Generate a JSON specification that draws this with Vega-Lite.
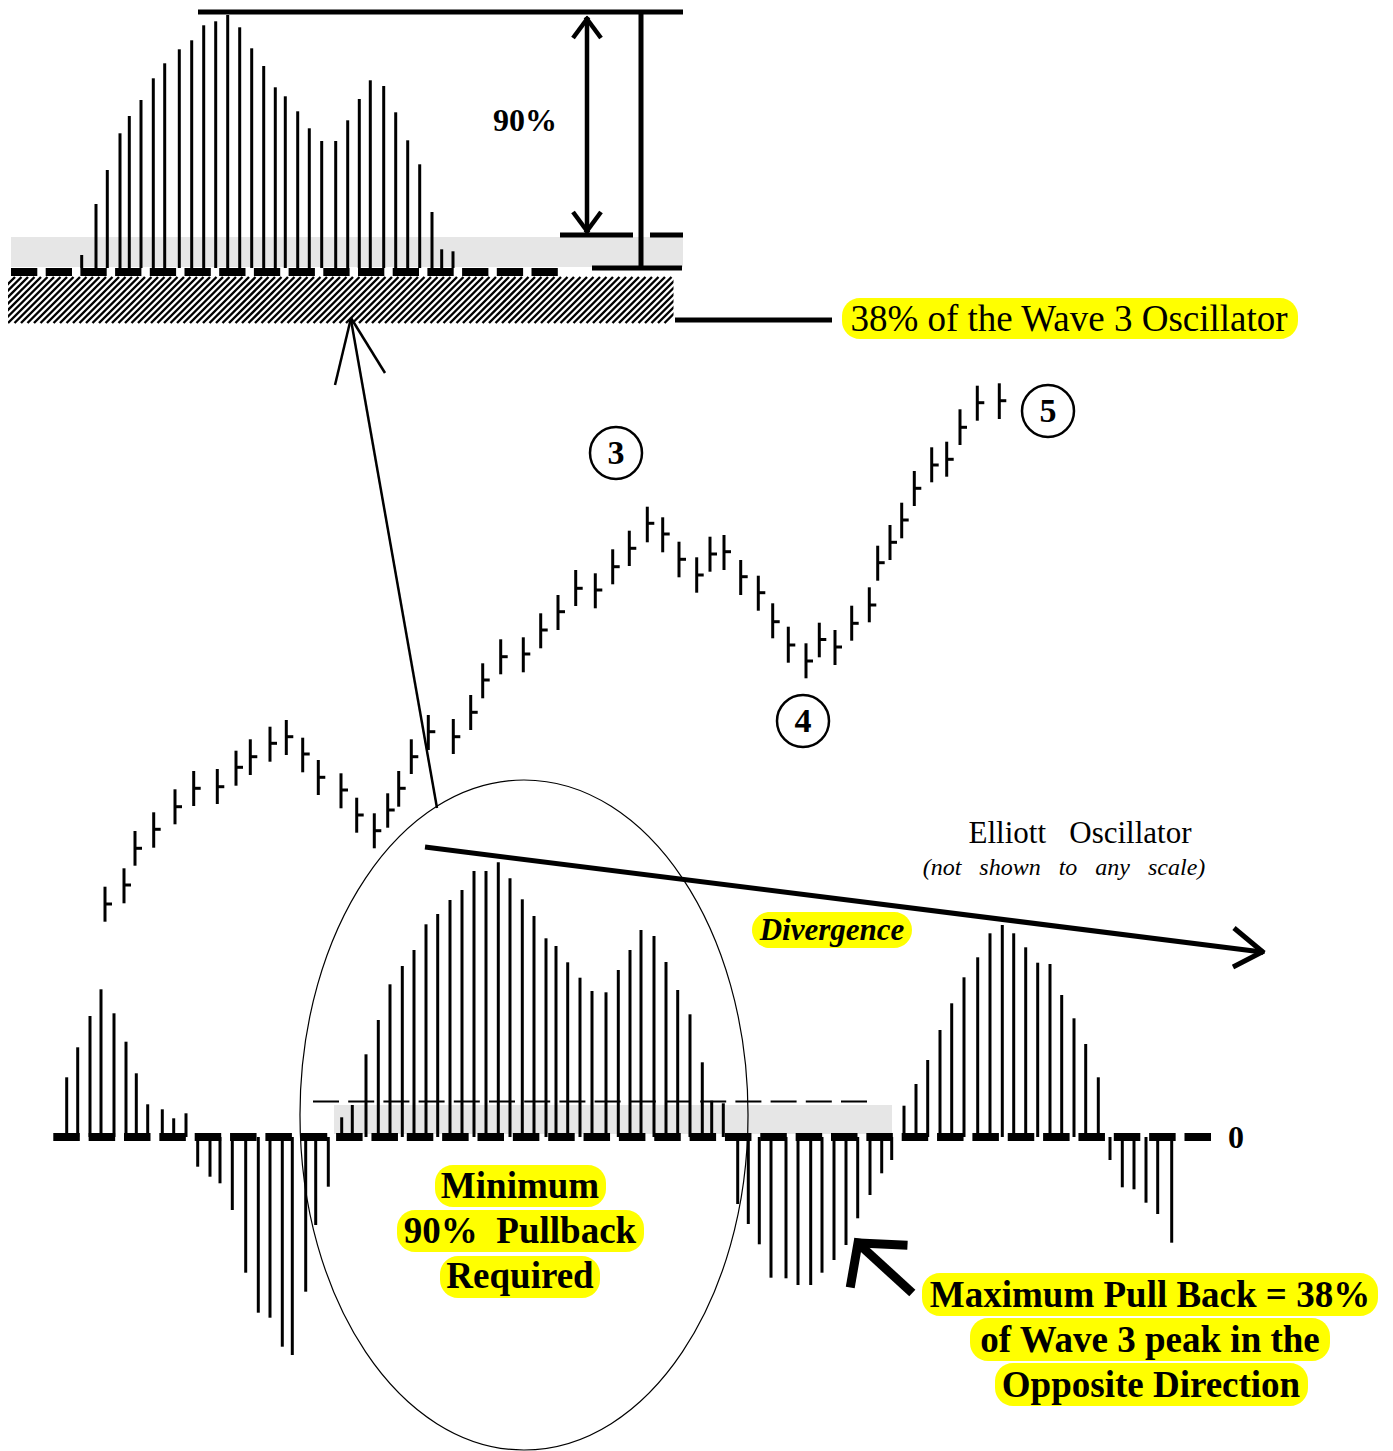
{
"$schema": "https://vega.github.io/schema/vega-lite/v6.json",
"width": 1393, "height": 1451, "autosize": "none", "padding": 0,
"background": "white",
"config": {"view": {"stroke": null}},
"datasets": {
"gray": [{"x":11,"x2":683,"y":237,"y2":267},{"x":334,"x2":892,"y":1105,"y2":1134}],
"hatch": [{"x":-8},{"x":-1.5},{"x":5},{"x":11.5},{"x":18},{"x":24.5},{"x":31},{"x":37.5},{"x":44},{"x":50.5},{"x":57},{"x":63.5},{"x":70},{"x":76.5},{"x":83},{"x":89.5},{"x":96},{"x":102.5},{"x":109},{"x":115.5},{"x":122},{"x":128.5},{"x":135},{"x":141.5},{"x":148},{"x":154.5},{"x":161},{"x":167.5},{"x":174},{"x":180.5},{"x":187},{"x":193.5},{"x":200},{"x":206.5},{"x":213},{"x":219.5},{"x":226},{"x":232.5},{"x":239},{"x":245.5},{"x":252},{"x":258.5},{"x":265},{"x":271.5},{"x":278},{"x":284.5},{"x":291},{"x":297.5},{"x":304},{"x":310.5},{"x":317},{"x":323.5},{"x":330},{"x":336.5},{"x":343},{"x":349.5},{"x":356},{"x":362.5},{"x":369},{"x":375.5},{"x":382},{"x":388.5},{"x":395},{"x":401.5},{"x":408},{"x":414.5},{"x":421},{"x":427.5},{"x":434},{"x":440.5},{"x":447},{"x":453.5},{"x":460},{"x":466.5},{"x":473},{"x":479.5},{"x":486},{"x":492.5},{"x":499},{"x":505.5},{"x":512},{"x":518.5},{"x":525},{"x":531.5},{"x":538},{"x":544.5},{"x":551},{"x":557.5},{"x":564},{"x":570.5},{"x":577},{"x":583.5},{"x":590},{"x":596.5},{"x":603},{"x":609.5},{"x":616},{"x":622.5},{"x":629},{"x":635.5},{"x":642},{"x":648.5},{"x":655},{"x":661.5},{"x":668},{"x":674.5},{"x":681},{"x":687.5}],
"cover": [{"x":-60,"x2":8,"y":274,"y2":327},{"x":673.5,"x2":730,"y":274,"y2":327}],
"inset": [{"x":81.7,"y":255},{"x":96,"y":204},{"x":107.3,"y":170},{"x":120,"y":133.3},{"x":129.3,"y":116},{"x":141,"y":100},{"x":153.3,"y":78.3},{"x":164.7,"y":63.3},{"x":179.3,"y":49.3},{"x":191.7,"y":40.3},{"x":203.7,"y":25.3},{"x":215.7,"y":21.3},{"x":227.7,"y":15},{"x":239.7,"y":27.3},{"x":251.7,"y":48.3},{"x":263.7,"y":66},{"x":275.3,"y":87.3},{"x":285.3,"y":96.3},{"x":297.7,"y":111.3},{"x":309.3,"y":128.3},{"x":321.7,"y":141},{"x":335.7,"y":141},{"x":347.7,"y":120.3},{"x":359.3,"y":99},{"x":370.3,"y":80.3},{"x":383.7,"y":86},{"x":395.7,"y":112.3},{"x":407.7,"y":140.3},{"x":419.7,"y":164.3},{"x":432,"y":212},{"x":441.7,"y":249.3},{"x":453,"y":251.3}],
"osc": [{"x":66.7,"y":1077.3},{"x":77.7,"y":1047.3},{"x":90,"y":1016},{"x":101,"y":989.3},{"x":114,"y":1013.3},{"x":126,"y":1041.7},{"x":136.3,"y":1073.3},{"x":147.7,"y":1104.3},{"x":162.3,"y":1109.3},{"x":173.7,"y":1118.3},{"x":186,"y":1113.3},
{"x":197.7,"y":1166.7},{"x":210,"y":1176.7},{"x":220,"y":1183.3},{"x":232.3,"y":1210},{"x":245.7,"y":1272.7},{"x":258.3,"y":1312.7},{"x":270,"y":1317.7},{"x":282.3,"y":1346.7},{"x":292.3,"y":1355},{"x":305.7,"y":1291.7},{"x":315.7,"y":1225},{"x":328.3,"y":1186.7},
{"x":341.7,"y":1117.3},{"x":352.3,"y":1105},{"x":366,"y":1054.3},{"x":378.3,"y":1020},{"x":390,"y":984.3},{"x":402.3,"y":966},{"x":414,"y":950},{"x":426,"y":924.3},{"x":437.7,"y":914},{"x":450,"y":900},{"x":462,"y":890},{"x":474,"y":871},{"x":486,"y":871},{"x":498.3,"y":862.3},{"x":510,"y":878.3},{"x":522.3,"y":899.3},{"x":534,"y":916},{"x":546,"y":938.3},{"x":556,"y":946},{"x":567.7,"y":962.3},{"x":580,"y":977.7},{"x":592,"y":991},{"x":606,"y":992.3},{"x":618.3,"y":970},{"x":630,"y":950},{"x":641,"y":930},{"x":654,"y":936},{"x":666,"y":962},{"x":677.7,"y":990},{"x":690,"y":1014.3},{"x":702.3,"y":1062.3},{"x":711.7,"y":1100.7},{"x":723.3,"y":1103.3},
{"x":737.7,"y":1204},{"x":748.3,"y":1224},{"x":759.3,"y":1244.3},{"x":771,"y":1277.7},{"x":786,"y":1278.3},{"x":798,"y":1285},{"x":810.7,"y":1285},{"x":822,"y":1272.7},{"x":834,"y":1260},{"x":846,"y":1245},{"x":857.7,"y":1218.3},{"x":870,"y":1195},{"x":881.7,"y":1173.3},{"x":891.7,"y":1160},
{"x":904,"y":1105.7},{"x":916,"y":1084},{"x":927.7,"y":1060},{"x":940,"y":1030},{"x":951.7,"y":1003.3},{"x":964,"y":977.3},{"x":977.7,"y":957.3},{"x":990,"y":933.3},{"x":1002.3,"y":925},{"x":1013.7,"y":933.3},{"x":1025.7,"y":947.3},{"x":1037.7,"y":962.7},{"x":1050,"y":964},{"x":1061.7,"y":995},{"x":1074,"y":1018.3},{"x":1085.7,"y":1044},{"x":1098.3,"y":1077.3},
{"x":1110,"y":1160},{"x":1122.3,"y":1187.3},{"x":1134,"y":1189.3},{"x":1146,"y":1202.7},{"x":1157.7,"y":1214},{"x":1171.7,"y":1242.7}],
"price": [{"x":105,"hi":886.7,"lo":921.7,"cl":904},{"x":124,"hi":868.3,"lo":903.3,"cl":885},{"x":135,"hi":831,"lo":865.7,"cl":848.3},{"x":153.7,"hi":812.3,"lo":847.7,"cl":829.3},{"x":175,"hi":789.3,"lo":824.3,"cl":806.7},{"x":193.7,"hi":771,"lo":806,"cl":788.3},{"x":217.3,"hi":769,"lo":804,"cl":786.7},{"x":236,"hi":750.7,"lo":785.7,"cl":767.3},{"x":250.3,"hi":739.3,"lo":775,"cl":756.7},{"x":270,"hi":726.7,"lo":761.7,"cl":743.3},{"x":286.3,"hi":720,"lo":755,"cl":736.7},{"x":302.7,"hi":737.7,"lo":772.3,"cl":754},{"x":318.3,"hi":760,"lo":795,"cl":777.3},{"x":341,"hi":773.3,"lo":808.3,"cl":790},{"x":356.7,"hi":797.7,"lo":832.7,"cl":815},{"x":374.3,"hi":813.3,"lo":848.3,"cl":830.7},{"x":387.7,"hi":793.3,"lo":827.7,"cl":810},{"x":398.7,"hi":771,"lo":806.7,"cl":788.3},{"x":411.3,"hi":739.3,"lo":774,"cl":756.7},{"x":428.3,"hi":715,"lo":750,"cl":731.7},{"x":453.3,"hi":719,"lo":754,"cl":736.7},{"x":470.7,"hi":695,"lo":730,"cl":712.3},{"x":482.7,"hi":663.3,"lo":698.3,"cl":680},{"x":500.7,"hi":639.3,"lo":674.3,"cl":656.7},{"x":523.3,"hi":637.3,"lo":672.3,"cl":654},{"x":540.7,"hi":613.3,"lo":648.3,"cl":630},{"x":558,"hi":595,"lo":630,"cl":611.7},{"x":575.7,"hi":570,"lo":606,"cl":588.3},{"x":595.3,"hi":573.3,"lo":608.3,"cl":590},{"x":612.7,"hi":549.3,"lo":584.3,"cl":566.7},{"x":629.3,"hi":530.7,"lo":566,"cl":548.3},{"x":647.3,"hi":506.7,"lo":542.3,"cl":523.3},{"x":662.7,"hi":517.3,"lo":552.3,"cl":534},{"x":679,"hi":541.7,"lo":577.3,"cl":559.3},{"x":696.7,"hi":557.3,"lo":592.7,"cl":575},{"x":710,"hi":536.7,"lo":571.7,"cl":554},{"x":724,"hi":535,"lo":570,"cl":551.7},{"x":740.7,"hi":560,"lo":595,"cl":576.7},{"x":758.3,"hi":575.7,"lo":610.7,"cl":592.7},{"x":772.7,"hi":603.3,"lo":638.3,"cl":621.7},{"x":788.3,"hi":626.7,"lo":662.7,"cl":645},{"x":806,"hi":643.3,"lo":678.3,"cl":661},{"x":819.3,"hi":622.7,"lo":657.3,"cl":639.5},{"x":835,"hi":630,"lo":665,"cl":647},{"x":851.7,"hi":605.7,"lo":640.7,"cl":623.3},{"x":869.3,"hi":587.3,"lo":622.3,"cl":605},{"x":877.7,"hi":545.7,"lo":580.7,"cl":562.7},{"x":890,"hi":525,"lo":560,"cl":542.3},{"x":901.7,"hi":502.7,"lo":538.3,"cl":520},{"x":914.3,"hi":471,"lo":506,"cl":488.3},{"x":931.7,"hi":447.3,"lo":482.3,"cl":465},{"x":946.7,"hi":441.7,"lo":476.7,"cl":459.3},{"x":960,"hi":409.3,"lo":445,"cl":427.3},{"x":977.3,"hi":385.7,"lo":420.7,"cl":402.7},{"x":999.3,"hi":383.3,"lo":419,"cl":400.7}],
"seg5": [{"x":198,"y":12,"x2":683,"y2":12},{"x":641,"y":12,"x2":641,"y2":268},{"x":560,"y":235,"x2":633,"y2":235},{"x":650,"y":235,"x2":683,"y2":235},{"x":592,"y":268,"x2":682,"y2":268},{"x":675,"y":320,"x2":832,"y2":320}],
"seg4": [{"x":587,"y":20,"x2":587,"y2":230},{"x":573,"y":38,"x2":588.5,"y2":17},{"x":601,"y":38,"x2":585.5,"y2":17},{"x":573,"y":212,"x2":588.5,"y2":233},{"x":601,"y":212,"x2":585.5,"y2":233}],
"seg25": [{"x":437,"y":808,"x2":351,"y2":320},{"x":351,"y":318,"x2":335,"y2":385},{"x":351,"y":318,"x2":385,"y2":373}],
"segdiv": [{"x":425,"y":847,"x2":1262,"y2":952},{"x":1234,"y":928,"x2":1264,"y2":953},{"x":1233,"y":967,"x2":1264,"y2":951}],
"segbig": [{"x":861,"y":1246,"x2":909,"y2":1290},{"x":859,"y":1243,"x2":903,"y2":1245},{"x":858,"y":1243,"x2":851,"y2":1283}],
"dashtop": [{"x":11,"y":272,"x2":558,"y2":272}],
"dashzero": [{"x":53.3,"y":1137,"x2":1211,"y2":1137}],
"dashthin": [{"x":313,"y":1101.5,"x2":868,"y2":1101.5}],
"ellipse": [{"x":524,"y":1115}],
"circles": [{"x":616,"y":453,"t":"3"},{"x":803,"y":721,"t":"4"},{"x":1048,"y":411,"t":"5"}],
"pills": [{"x":842,"x2":1298,"y":298,"y2":339},{"x":752,"x2":912,"y":912,"y2":948},{"x":435,"x2":606,"y":1165,"y2":1207},{"x":397,"x2":644,"y":1210,"y2":1252},{"x":440,"x2":600,"y":1256,"y2":1298},{"x":922,"x2":1378,"y":1273,"y2":1316},{"x":970,"x2":1330,"y":1318,"y2":1361},{"x":995,"x2":1308,"y":1363,"y2":1406}],
"boldlabels": [{"x":520,"y":1187,"t":"Minimum"},{"x":520,"y":1232,"t":"90%\u00a0\u00a0Pullback"},{"x":520,"y":1277,"t":"Required"},{"x":1150,"y":1296,"t":"Maximum Pull Back = 38%"},{"x":1150,"y":1341,"t":"of Wave 3 peak in the"},{"x":1151,"y":1386,"t":"Opposite Direction"}]
},
"layer": [
{"data":{"name":"gray"},"mark":{"type":"rect","color":"#e6e6e6"},
 "encoding":{"x":{"field":"x","type":"quantitative","scale":{"domain":[0,1393],"nice":false,"zero":false},"axis":null},"x2":{"field":"x2"},
 "y":{"field":"y","type":"quantitative","scale":{"domain":[0,1451],"nice":false,"zero":false,"reverse":true},"axis":null},"y2":{"field":"y2"}}},
{"data":{"name":"hatch"},"mark":{"type":"point","shape":"M -1 1 L 1 -1","size":2116,"filled":false,"color":"black","strokeWidth":2.4,"opacity":1},
 "encoding":{"x":{"field":"x","type":"quantitative","scale":{"domain":[0,1393],"nice":false,"zero":false},"axis":null},
 "y":{"datum":300,"type":"quantitative","scale":{"domain":[0,1451],"nice":false,"zero":false,"reverse":true},"axis":null}}},
{"data":{"name":"cover"},"mark":{"type":"rect","color":"white"},
 "encoding":{"x":{"field":"x","type":"quantitative","scale":{"domain":[0,1393],"nice":false,"zero":false},"axis":null},"x2":{"field":"x2"},
 "y":{"field":"y","type":"quantitative","scale":{"domain":[0,1451],"nice":false,"zero":false,"reverse":true},"axis":null},"y2":{"field":"y2"}}},
{"data":{"name":"inset"},"mark":{"type":"rule","color":"black","strokeWidth":3},
 "encoding":{"x":{"field":"x","type":"quantitative","scale":{"domain":[0,1393],"nice":false,"zero":false},"axis":null},
 "y":{"field":"y","type":"quantitative","scale":{"domain":[0,1451],"nice":false,"zero":false,"reverse":true},"axis":null},"y2":{"datum":268}}},
{"data":{"name":"osc"},"mark":{"type":"rule","color":"black","strokeWidth":3},
 "encoding":{"x":{"field":"x","type":"quantitative","scale":{"domain":[0,1393],"nice":false,"zero":false},"axis":null},
 "y":{"field":"y","type":"quantitative","scale":{"domain":[0,1451],"nice":false,"zero":false,"reverse":true},"axis":null},"y2":{"datum":1137}}},
{"data":{"name":"price"},"mark":{"type":"rule","color":"black","strokeWidth":3},
 "encoding":{"x":{"field":"x","type":"quantitative","scale":{"domain":[0,1393],"nice":false,"zero":false},"axis":null},
 "y":{"field":"hi","type":"quantitative","scale":{"domain":[0,1451],"nice":false,"zero":false,"reverse":true},"axis":null},"y2":{"field":"lo"}}},
{"data":{"name":"price"},"mark":{"type":"point","shape":"M 0 0 L 1 0","size":196,"filled":false,"color":"black","strokeWidth":3,"opacity":1},
 "encoding":{"x":{"field":"x","type":"quantitative","scale":{"domain":[0,1393],"nice":false,"zero":false},"axis":null},
 "y":{"field":"cl","type":"quantitative","scale":{"domain":[0,1451],"nice":false,"zero":false,"reverse":true},"axis":null}}},
{"data":{"name":"dashtop"},"mark":{"type":"rule","color":"black","strokeWidth":8,"strokeDash":[26.3,8.4]},
 "encoding":{"x":{"field":"x","type":"quantitative","scale":{"domain":[0,1393],"nice":false,"zero":false},"axis":null},"x2":{"field":"x2"},
 "y":{"field":"y","type":"quantitative","scale":{"domain":[0,1451],"nice":false,"zero":false,"reverse":true},"axis":null},"y2":{"field":"y2"}}},
{"data":{"name":"dashzero"},"mark":{"type":"rule","color":"black","strokeWidth":8,"strokeDash":[26.5,8.85]},
 "encoding":{"x":{"field":"x","type":"quantitative","scale":{"domain":[0,1393],"nice":false,"zero":false},"axis":null},"x2":{"field":"x2"},
 "y":{"field":"y","type":"quantitative","scale":{"domain":[0,1451],"nice":false,"zero":false,"reverse":true},"axis":null},"y2":{"field":"y2"}}},
{"data":{"name":"dashthin"},"mark":{"type":"rule","color":"black","strokeWidth":2,"strokeDash":[26,9.2]},
 "encoding":{"x":{"field":"x","type":"quantitative","scale":{"domain":[0,1393],"nice":false,"zero":false},"axis":null},"x2":{"field":"x2"},
 "y":{"field":"y","type":"quantitative","scale":{"domain":[0,1451],"nice":false,"zero":false,"reverse":true},"axis":null},"y2":{"field":"y2"}}},
{"data":{"name":"seg5"},"mark":{"type":"rule","color":"black","strokeWidth":5},
 "encoding":{"x":{"field":"x","type":"quantitative","scale":{"domain":[0,1393],"nice":false,"zero":false},"axis":null},"x2":{"field":"x2"},
 "y":{"field":"y","type":"quantitative","scale":{"domain":[0,1451],"nice":false,"zero":false,"reverse":true},"axis":null},"y2":{"field":"y2"}}},
{"data":{"name":"seg4"},"mark":{"type":"rule","color":"black","strokeWidth":4.5},
 "encoding":{"x":{"field":"x","type":"quantitative","scale":{"domain":[0,1393],"nice":false,"zero":false},"axis":null},"x2":{"field":"x2"},
 "y":{"field":"y","type":"quantitative","scale":{"domain":[0,1451],"nice":false,"zero":false,"reverse":true},"axis":null},"y2":{"field":"y2"}}},
{"data":{"name":"seg25"},"mark":{"type":"rule","color":"black","strokeWidth":2.5},
 "encoding":{"x":{"field":"x","type":"quantitative","scale":{"domain":[0,1393],"nice":false,"zero":false},"axis":null},"x2":{"field":"x2"},
 "y":{"field":"y","type":"quantitative","scale":{"domain":[0,1451],"nice":false,"zero":false,"reverse":true},"axis":null},"y2":{"field":"y2"}}},
{"data":{"name":"segdiv"},"mark":{"type":"rule","color":"black","strokeWidth":5},
 "encoding":{"x":{"field":"x","type":"quantitative","scale":{"domain":[0,1393],"nice":false,"zero":false},"axis":null},"x2":{"field":"x2"},
 "y":{"field":"y","type":"quantitative","scale":{"domain":[0,1451],"nice":false,"zero":false,"reverse":true},"axis":null},"y2":{"field":"y2"}}},
{"data":{"name":"segbig"},"mark":{"type":"rule","color":"black","strokeWidth":9,"strokeCap":"square"},
 "encoding":{"x":{"field":"x","type":"quantitative","scale":{"domain":[0,1393],"nice":false,"zero":false},"axis":null},"x2":{"field":"x2"},
 "y":{"field":"y","type":"quantitative","scale":{"domain":[0,1451],"nice":false,"zero":false,"reverse":true},"axis":null},"y2":{"field":"y2"}}},
{"data":{"name":"ellipse"},"mark":{"type":"point","shape":"M 0.6687 0 C 0.6687 0.5523 0.3693 1 0 1 C -0.3693 1 -0.6687 0.5523 -0.6687 0 C -0.6687 -0.5523 -0.3693 -1 0 -1 C 0.3693 -1 0.6687 -0.5523 0.6687 0 Z","size":448900,"filled":false,"color":"black","strokeWidth":1.2,"opacity":1},
 "encoding":{"x":{"field":"x","type":"quantitative","scale":{"domain":[0,1393],"nice":false,"zero":false},"axis":null},
 "y":{"field":"y","type":"quantitative","scale":{"domain":[0,1451],"nice":false,"zero":false,"reverse":true},"axis":null}}},
{"data":{"name":"circles"},"mark":{"type":"point","shape":"circle","size":2704,"filled":false,"color":"black","strokeWidth":2.5,"opacity":1},
 "encoding":{"x":{"field":"x","type":"quantitative","scale":{"domain":[0,1393],"nice":false,"zero":false},"axis":null},
 "y":{"field":"y","type":"quantitative","scale":{"domain":[0,1451],"nice":false,"zero":false,"reverse":true},"axis":null}}},
{"data":{"name":"circles"},"mark":{"type":"text","font":"Liberation Serif","fontWeight":"bold","fontSize":34,"align":"center","baseline":"middle","color":"black","dy":1},
 "encoding":{"x":{"field":"x","type":"quantitative","scale":{"domain":[0,1393],"nice":false,"zero":false},"axis":null},
 "y":{"field":"y","type":"quantitative","scale":{"domain":[0,1451],"nice":false,"zero":false,"reverse":true},"axis":null},"text":{"field":"t"}}},
{"data":{"name":"pills"},"mark":{"type":"rect","color":"#ffff00","cornerRadius":18},
 "encoding":{"x":{"field":"x","type":"quantitative","scale":{"domain":[0,1393],"nice":false,"zero":false},"axis":null},"x2":{"field":"x2"},
 "y":{"field":"y","type":"quantitative","scale":{"domain":[0,1451],"nice":false,"zero":false,"reverse":true},"axis":null},"y2":{"field":"y2"}}},
{"data":{"name":"boldlabels"},"mark":{"type":"text","font":"Liberation Serif","fontWeight":"bold","fontSize":37,"align":"center","baseline":"middle","color":"black"},
 "encoding":{"x":{"field":"x","type":"quantitative","scale":{"domain":[0,1393],"nice":false,"zero":false},"axis":null},
 "y":{"field":"y","type":"quantitative","scale":{"domain":[0,1451],"nice":false,"zero":false,"reverse":true},"axis":null},"text":{"field":"t"}}},
{"data":{"values":[{"x":525,"y":121,"t":"90%"},{"x":1236,"y":1138,"t":"0"}]},"mark":{"type":"text","font":"Liberation Serif","fontWeight":"bold","fontSize":32,"align":"center","baseline":"middle","color":"black"},
 "encoding":{"x":{"field":"x","type":"quantitative","scale":{"domain":[0,1393],"nice":false,"zero":false},"axis":null},
 "y":{"field":"y","type":"quantitative","scale":{"domain":[0,1451],"nice":false,"zero":false,"reverse":true},"axis":null},"text":{"field":"t"}}},
{"data":{"values":[{"x":1069,"y":320,"t":"38% of the Wave 3 Oscillator"}]},"mark":{"type":"text","font":"Liberation Serif","fontSize":37,"align":"center","baseline":"middle","color":"black"},
 "encoding":{"x":{"field":"x","type":"quantitative","scale":{"domain":[0,1393],"nice":false,"zero":false},"axis":null},
 "y":{"field":"y","type":"quantitative","scale":{"domain":[0,1451],"nice":false,"zero":false,"reverse":true},"axis":null},"text":{"field":"t"}}},
{"data":{"values":[{"x":1080,"y":834,"t":"Elliott\u00a0\u00a0\u00a0Oscillator"}]},"mark":{"type":"text","font":"Liberation Serif","fontSize":31,"align":"center","baseline":"middle","color":"black"},
 "encoding":{"x":{"field":"x","type":"quantitative","scale":{"domain":[0,1393],"nice":false,"zero":false},"axis":null},
 "y":{"field":"y","type":"quantitative","scale":{"domain":[0,1451],"nice":false,"zero":false,"reverse":true},"axis":null},"text":{"field":"t"}}},
{"data":{"values":[{"x":1064,"y":868,"t":"(not\u00a0\u00a0\u00a0shown\u00a0\u00a0\u00a0to\u00a0\u00a0\u00a0any\u00a0\u00a0\u00a0scale)"}]},"mark":{"type":"text","font":"Liberation Serif","fontStyle":"italic","fontSize":24,"align":"center","baseline":"middle","color":"black"},
 "encoding":{"x":{"field":"x","type":"quantitative","scale":{"domain":[0,1393],"nice":false,"zero":false},"axis":null},
 "y":{"field":"y","type":"quantitative","scale":{"domain":[0,1451],"nice":false,"zero":false,"reverse":true},"axis":null},"text":{"field":"t"}}},
{"data":{"values":[{"x":832,"y":931,"t":"Divergence"}]},"mark":{"type":"text","font":"Liberation Serif","fontStyle":"italic","fontWeight":"bold","fontSize":31,"align":"center","baseline":"middle","color":"black"},
 "encoding":{"x":{"field":"x","type":"quantitative","scale":{"domain":[0,1393],"nice":false,"zero":false},"axis":null},
 "y":{"field":"y","type":"quantitative","scale":{"domain":[0,1451],"nice":false,"zero":false,"reverse":true},"axis":null},"text":{"field":"t"}}}
]
}
